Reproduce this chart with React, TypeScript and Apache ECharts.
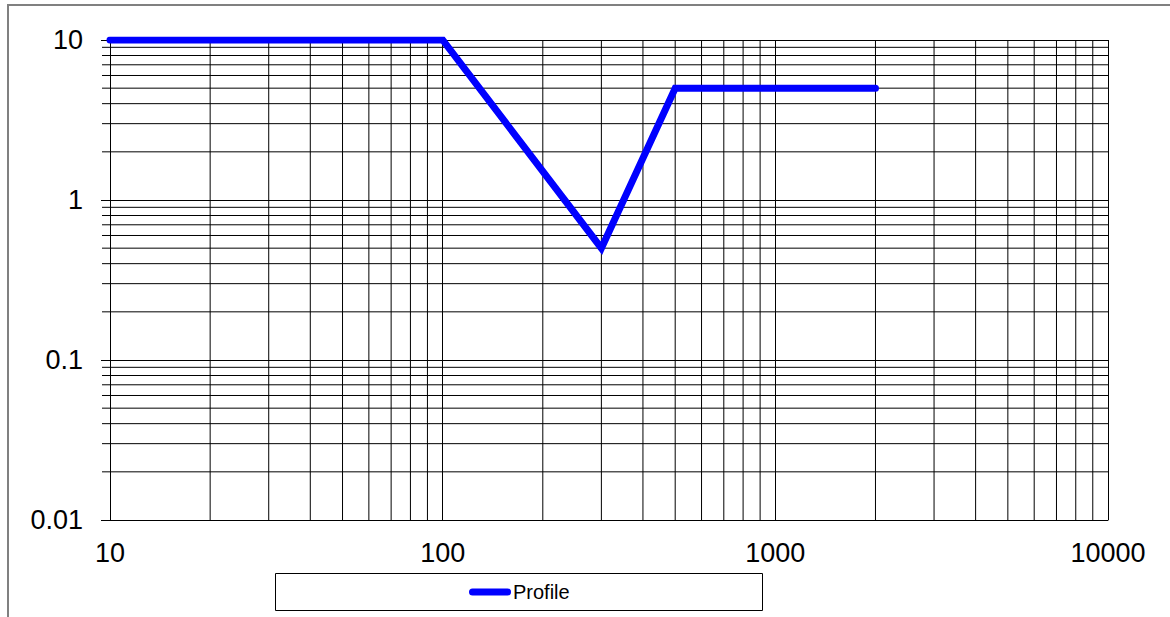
import React, { useEffect, useRef } from "react";
import * as echarts from "echarts";

const seriesName = "Profile";
const profileX = [10, 100, 300, 500, 2000];
const profileY = [10, 10, 0.5, 5, 5];
const xMinor = [20, 30, 40, 50, 60, 70, 80, 90, 200, 300, 400, 500, 600, 700, 800, 900, 2000, 3000, 4000, 5000, 6000, 7000, 8000, 9000];
const yMinor = [0.02, 0.03, 0.04, 0.05, 0.06, 0.07, 0.08, 0.09, 0.2, 0.3, 0.4, 0.5, 0.6, 0.7, 0.8, 0.9, 2, 3, 4, 5, 6, 7, 8, 9];
const xRange = [10, 10000];
const yRange = [0.01, 10];

const FONT = "'Liberation Sans', Arial, sans-serif";

export default function App() {
  const ref = useRef<HTMLDivElement>(null);
  useEffect(() => {
    if (!ref.current) return;
    const chart = echarts.init(ref.current, undefined, { renderer: "svg" });
    const fmt = (v: number) => String(Number(v.toPrecision(4)));
    chart.setOption({
      animation: false,
      grid: { left: 110, right: 62, top: 40, bottom: 97, containLabel: false },
      xAxis: {
        type: "log",
        logBase: 10,
        min: xRange[0],
        max: xRange[1],
        axisLine: { show: true, lineStyle: { color: "#000", width: 1 } },
        axisTick: { show: false },
        splitLine: { show: true, lineStyle: { color: "#000", width: 1 } },
        axisLabel: { color: "#000", fontSize: 27, fontFamily: FONT, margin: 19, formatter: fmt },
      },
      yAxis: {
        type: "log",
        logBase: 10,
        min: yRange[0],
        max: yRange[1],
        axisLine: { show: true, lineStyle: { color: "#000", width: 1 } },
        axisTick: { show: true, length: 9, lineStyle: { color: "#000", width: 1 } },
        splitLine: { show: true, lineStyle: { color: "#000", width: 1 } },
        axisLabel: { color: "#000", fontSize: 27, fontFamily: FONT, margin: 27, formatter: fmt },
      },
      legend: {
        data: [seriesName],
        left: 469,
        top: 582,
        padding: 0,
        itemWidth: 42,
        itemHeight: 7,
        icon: "path://M3.5,0 L38.5,0 A3.5,3.5 0 0 1 38.5,7 L3.5,7 A3.5,3.5 0 0 1 3.5,0 Z",
        itemStyle: { color: "#0000ff" },
        textStyle: { color: "#000", fontSize: 20, fontFamily: FONT, padding: [0, 0, 0, -3] },
      },
      graphic: [
        {
          type: "rect",
          shape: { x: 275.5, y: 573.5, width: 487, height: 37 },
          style: { fill: "#fff", stroke: "#000", lineWidth: 1 },
          silent: true,
          z: 0,
        },
      ],
      series: [
        {
          name: "xMinor",
          type: "custom",
          silent: true,
          clip: false,
          z: 1,
          data: xMinor.map((v) => [v, 1]),
          renderItem: (params: any, api: any) => {
            const x = api.value(0);
            const a = api.coord([x, yRange[1]]);
            const b = api.coord([x, yRange[0]]);
            return {
              type: "line",
              shape: { x1: a[0], y1: a[1], x2: b[0], y2: b[1] },
              style: { stroke: "#000", lineWidth: 1 },
            };
          },
        },
        {
          name: "yMinor",
          type: "custom",
          silent: true,
          clip: false,
          z: 1,
          data: yMinor.map((v) => [xRange[0], v]),
          renderItem: (params: any, api: any) => {
            const y = api.value(1);
            const a = api.coord([xRange[0], y]);
            const b = api.coord([xRange[1], y]);
            return {
              type: "line",
              shape: { x1: a[0] - 8, y1: a[1], x2: b[0], y2: b[1] },
              style: { stroke: "#000", lineWidth: 1 },
            };
          },
        },
        {
          name: seriesName,
          type: "line",
          z: 5,
          symbol: "none",
          data: profileX.map((x, i) => [x, profileY[i]]),
          lineStyle: { color: "#0000ff", width: 7, cap: "round", join: "miter" },
          itemStyle: { color: "#0000ff" },
        },
      ],
    });
    return () => chart.dispose();
  }, []);
  return (
    <div style={{ position: "fixed", left: 0, top: 0, width: 1170, height: 617, background: "#fff", overflow: "hidden" }}>
      <div
        style={{
          position: "absolute",
          left: 7,
          top: 4,
          width: 1300,
          height: 800,
          borderTop: "2px solid #808080",
          borderLeft: "2px solid #808080",
          boxSizing: "border-box",
        }}
      />
      <div
        ref={ref}
        style={{ position: "absolute", left: 0, top: 0, width: 1170, height: 617 }}
      />
    </div>
  );
}
